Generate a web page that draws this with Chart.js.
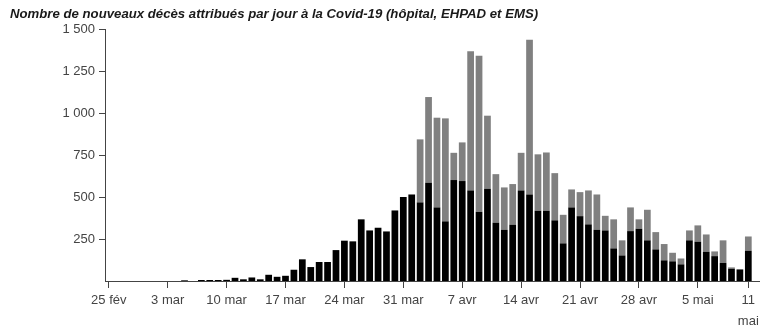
<!DOCTYPE html>
<html lang="fr">
<head>
<meta charset="utf-8">
<title>Décès quotidiens Covid-19</title>
<script src="https://cdn.jsdelivr.net/npm/chart.js@4/dist/chart.umd.min.js"></script>
<style>
  html, body { margin: 0; padding: 0; background: #fff; }
  #wrap { width: 780px; height: 332px; }
</style>
</head>
<body>
<div id="wrap"><canvas id="c" width="780" height="332"></canvas></div>
<script>
// Premier jour de la série : 25 février 2020 (index 0), dernier : 11 mai 2020 (index 76)
const premierJour = new Date(2020, 1, 25);

// Décès à l'hôpital, par jour
const hopital = [
  0, 0, 0, 0, 0, 0, 0, 0, 0, 4,
  0, 6, 6, 6, 7, 19, 10, 21, 10, 37,
  25, 31, 67, 129, 83, 113, 113, 184, 240, 236,
  367, 301, 317, 295, 420, 500, 515, 468, 585, 438,
  355, 601, 595, 539, 412, 549, 347, 305, 335, 539,
  515, 418, 418, 361, 224, 438, 386, 337, 305, 301,
  194, 152, 297, 311, 242, 188, 123, 117, 99, 242,
  234, 174, 148, 107, 73, 69, 180
];

// Décès en EHPAD et EMS, par jour
const ehpadEms = [
  0, 0, 0, 0, 0, 0, 0, 0, 0, 0,
  0, 0, 0, 0, 0, 0, 0, 0, 0, 0,
  0, 0, 0, 0, 0, 0, 0, 0, 0, 0,
  0, 0, 0, 0, 0, 0, 0, 375, 510, 534,
  613, 162, 230, 828, 929, 435, 289, 252, 242, 224,
  921, 336, 347, 281, 170, 107, 143, 202, 210, 87,
  173, 90, 141, 56, 182, 103, 97, 51, 35, 59,
  97, 103, 28, 135, 8, 0, 85
];

// Graduations de l'axe des dates (jours depuis le 25 février)
const joursGradues = [0, 7, 14, 21, 28, 35, 42, 49, 56, 63, 70, 76];
const libellesDates = ['25 fév', '3 mar', '10 mar', '17 mar', '24 mar', '31 mar',
  '7 avr', '14 avr', '21 avr', '28 avr', '5 mai', ['11', 'mai']];

// Graduations de l'axe des valeurs
const valeursGraduees = [250, 500, 750, 1000, 1250, 1500];

const titre = 'Nombre de nouveaux décès attribués par jour à la Covid-19 (hôpital, EHPAD et EMS)';

// Une catégorie par jour
const jours = hopital.map((_, i) => {
  const d = new Date(premierJour);
  d.setDate(d.getDate() + i);
  return d.toISOString().slice(0, 10);
});

const pointsHopital = jours.map((_, i) => ({ x: i, y: hopital[i] }));
const pointsEhpad = jours.map((_, i) => ({ x: i, y: ehpadEms[i] }));

const axe = '#444';
const police = '"Liberation Sans", Arial, sans-serif';

const formatMilliers = v => String(v).replace(/\B(?=(\d{3})+(?!\d))/g, ' ');

const titrePlugin = {
  id: 'titreGauche',
  afterDraw(chart) {
    const ctx = chart.ctx;
    ctx.save();
    ctx.font = 'italic bold 13.2px ' + police;
    ctx.fillStyle = '#1a1a1a';
    ctx.textBaseline = 'middle';
    ctx.textAlign = 'left';
    ctx.fillText(titre, 10, 14);
    ctx.restore();
  }
};

new Chart(document.getElementById('c'), {
  type: 'bar',
  data: {
    datasets: [
      { label: 'Hôpital', data: pointsHopital, backgroundColor: '#000000',
        barPercentage: 0.8, categoryPercentage: 1.0, borderWidth: 0 },
      { label: 'EHPAD et EMS', data: pointsEhpad, backgroundColor: '#808080',
        barPercentage: 0.8, categoryPercentage: 1.0, borderWidth: 0 }
    ]
  },
  options: {
    responsive: false,
    animation: false,
    devicePixelRatio: 1,
    layout: { padding: { left: 0, right: 21, top: 29, bottom: 0 } },
    plugins: {
      legend: { display: false },
      tooltip: { enabled: false },
      title: { display: false }
    },
    scales: {
      x: {
        type: 'linear',
        stacked: true,
        offset: false,
        min: -0.45,
        max: 77.27,
        afterBuildTicks: s => { s.ticks = joursGradues.map(v => ({ value: v })); },
        afterFit: s => { s.height = 51; },
        grid: { drawOnChartArea: false, drawTicks: true, tickLength: 7, color: axe, offset: false },
        border: { display: true, color: axe, width: 1 },
        ticks: {
          autoSkip: false,
          maxRotation: 0,
          padding: 2,
          color: axe,
          font: { family: police, size: 13, lineHeight: 1.6 },
          callback: (v, i) => libellesDates[i]
        }
      },
      y: {
        stacked: true,
        min: 0,
        max: 1500,
        afterBuildTicks: s => { s.ticks = valeursGraduees.map(v => ({ value: v })); },
        afterFit: s => { s.width = 105; },
        grid: { drawOnChartArea: false, drawTicks: true, tickLength: 6, color: axe },
        border: { display: true, color: axe, width: 1 },
        ticks: {
          padding: 4,
          color: axe,
          font: { family: police, size: 13 },
          callback: v => formatMilliers(v)
        }
      }
    }
  },
  plugins: [titrePlugin]
});
</script>
</body>
</html>
